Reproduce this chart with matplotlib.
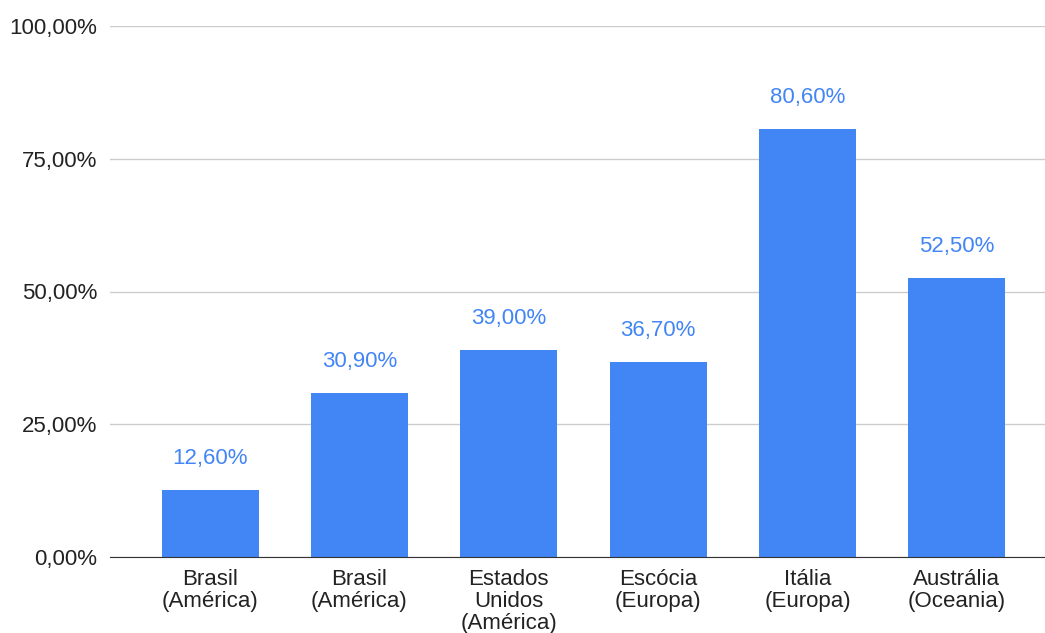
import matplotlib.pyplot as plt
from matplotlib.ticker import FuncFormatter

categories = ["Brasil\n(América)", "Brasil\n(América)", "Estados\nUnidos\n(América)",
              "Escócia\n(Europa)", "Itália\n(Europa)", "Austrália\n(Oceania)"]
values = [12.6, 30.9, 39.0, 36.7, 80.6, 52.5]
yticks = [0, 25, 50, 75, 100]

plt.rcParams["font.family"] = ["Liberation Sans", "DejaVu Sans"]

fig = plt.figure(figsize=(10.45, 6.33), dpi=100)
ax = fig.add_axes([110 / 1045, 76 / 633, 935 / 1045, 531 / 633])

blue = "#4285F4"
x = list(range(len(values)))
ax.bar(x, values, width=0.65, color=blue, zorder=3)

for xi, v in zip(x, values):
    ax.annotate(f"{v:.2f}%".replace(".", ","), (xi, v), xytext=(0, 22.5),
                textcoords="offset points", ha="center", va="center",
                color=blue, fontsize=16)

ax.set_xlim(-0.67, 5.59)
ax.set_ylim(0, 100)
ax.set_yticks(yticks)
ax.yaxis.set_major_formatter(FuncFormatter(lambda v, p: f"{v:.2f}%".replace(".", ",")))
ax.set_xticks(x)
ax.set_xticklabels(categories)
ax.grid(axis="y", color="#cccccc", linewidth=1, zorder=0)
for s in ["top", "right", "left"]:
    ax.spines[s].set_visible(False)
ax.spines["bottom"].set_color("#333333")
ax.spines["bottom"].set_zorder(4)
ax.tick_params(axis="both", length=0, labelsize=16, colors="#222222")
ax.tick_params(axis="y", pad=9)
ax.tick_params(axis="x", pad=8.5)
for lbl in ax.get_xticklabels():
    lbl.set_linespacing(1.07)

fig.savefig("out.png", dpi=100)
